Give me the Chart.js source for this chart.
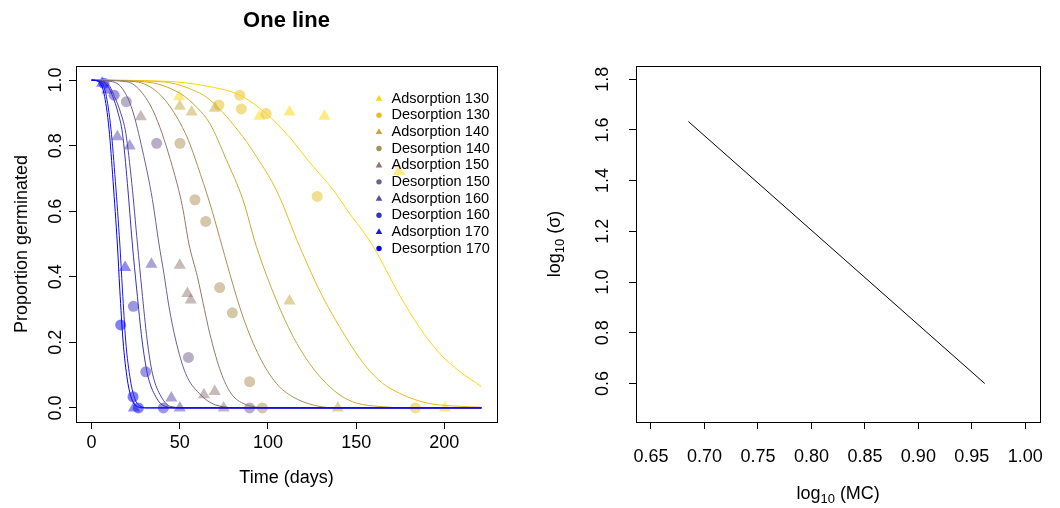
<!DOCTYPE html>
<html>
<head>
<meta charset="utf-8">
<title>One line</title>
<script src="https://cdn.jsdelivr.net/npm/chart.js@4.4.1/dist/chart.umd.min.js"></script>
<style>
  body { margin: 0; background: #fff; }
  #wrap { position: relative; width: 1060px; height: 508px; }
  canvas { position: absolute; top: 0; }
</style>
</head>
<body>
<div id="wrap">
  <canvas id="left" width="530" height="508" style="left:0"></canvas>
  <canvas id="right" width="530" height="508" style="left:530px"></canvas>
</div>
<script>
// series names, same order as the legend
var seriesNames = ['Adsorption 130', 'Desorption 130', 'Adsorption 140', 'Desorption 140', 'Adsorption 150',
  'Desorption 150', 'Adsorption 160', 'Desorption 160', 'Adsorption 170', 'Desorption 170'];

// fitted curves as [day, proportion]
var curveAds130 = [[0, 1], [40, 0.997], [67, 0.98], [84, 0.954], [99, 0.898], [112, 0.827], [123.5, 0.75], [137, 0.665],
  [146, 0.595], [153, 0.545], [160, 0.49], [167, 0.42], [175, 0.34], [186, 0.245], [197, 0.168], [208.5, 0.112], [221, 0.065]];
var curveDes130 = [[0, 1], [40, 0.995], [55, 0.975], [67, 0.94], [85.8, 0.827], [93.4, 0.767], [104.7, 0.665], [117.9, 0.493],
  [130, 0.35], [146, 0.2], [155.6, 0.126], [165, 0.075], [174.5, 0.045], [184, 0.024], [193, 0.012], [208.5, 0.005], [221, 0.002]];
var curveAds140 = [[0, 1], [30, 0.995], [50, 0.96], [60, 0.915], [67, 0.868], [76.4, 0.757], [85.8, 0.635], [93.4, 0.493],
  [104.7, 0.329], [114, 0.22], [123.5, 0.136], [133, 0.075], [142, 0.035], [150, 0.015], [164, 0.004], [180, 0], [221, 0]];
var curveDes140 = [[0, 1], [25, 0.995], [38, 0.96], [48, 0.89], [55, 0.815], [60, 0.74], [67, 0.625], [72.6, 0.52],
  [78.3, 0.41], [85.8, 0.278], [95.2, 0.156], [104.7, 0.075], [114, 0.034], [127, 0.007], [140, 0], [221, 0]];
var curveAds150 = [[0, 1], [20, 0.995], [28.8, 0.96], [36.4, 0.888], [45.8, 0.736], [51.5, 0.614], [55.2, 0.5],
  [60, 0.4], [64, 0.3], [67, 0.227], [72.6, 0.12], [78.3, 0.05], [85.8, 0.014], [100, 0.001], [221, 0]];
var curveDes150 = [[0, 1], [12, 0.995], [18, 0.97], [23.1, 0.909], [28.8, 0.787], [34.5, 0.635], [38.2, 0.5], [41, 0.41],
  [43.9, 0.308], [47.7, 0.207], [53.3, 0.105], [60.9, 0.045], [70.3, 0.009], [85, 0], [221, 0]];
var curveAds160 = [[0, 1], [9, 0.99], [13, 0.95], [16.5, 0.9], [19.4, 0.838], [22.8, 0.685], [26, 0.5], [28.5, 0.36],
  [31.5, 0.207], [34.5, 0.105], [39.5, 0.034], [45, 0.004], [55, 0], [221, 0]];
var curveDes160 = [[0, 1], [8, 0.99], [12, 0.95], [15, 0.9], [17.5, 0.838], [20.3, 0.685], [23.1, 0.5], [25.6, 0.36],
  [28.6, 0.207], [31.6, 0.105], [36.4, 0.034], [42, 0.004], [50, 0], [221, 0]];
var curveAds170 = [[0, 1], [5, 0.995], [8, 0.96], [11, 0.85], [13.5, 0.69], [16, 0.5], [17.5, 0.36], [19.3, 0.207],
  [22, 0.085], [24.8, 0.024], [28, 0.004], [32, 0], [221, 0]];
var curveDes170 = [[0, 1], [4, 0.995], [7, 0.96], [9.9, 0.85], [12.2, 0.69], [14.6, 0.5], [16, 0.36], [17.8, 0.207],
  [20.3, 0.085], [23, 0.024], [26, 0.004], [30, 0], [221, 0]];

// observed germination, [day, proportion]
var ptsAds130 = [[49.6, 0.949], [95.2, 0.89], [112.2, 0.903], [132, 0.89], [174.4, 0.721], [200.4, 0]];
var ptsDes130 = [[72.2, 0.924], [84, 0.954], [84.9, 0.912], [99, 0.898], [127.9, 0.645], [183.6, 0]];
var ptsAds140 = [[50, 0.92], [56.7, 0.903], [69.8, 0.914], [112.2, 0.326], [139.6, 0]];
var ptsDes140 = [[50.1, 0.807], [58.6, 0.635], [64.7, 0.569], [72.6, 0.367], [79.8, 0.29], [89.6, 0.08], [96.8, 0]];
var ptsAds150 = [[27.9, 0.888], [50, 0.435], [54.3, 0.349], [56.2, 0.329], [63.7, 0.04], [69.8, 0.05], [74.9, 0]];
var ptsDes150 = [[19.7, 0.934], [36.9, 0.807], [54.9, 0.154], [89.6, 0]];
var ptsAds160 = [[14.6, 0.827], [21.6, 0.799], [33.9, 0.438], [45.2, 0.03], [50, 0]];
var ptsDes160 = [[12.8, 0.954], [23.7, 0.31], [30.7, 0.11], [40.7, 0]];
var ptsAds170 = [[6, 0.99], [9, 0.97], [19, 0.428], [24, 0]];
var ptsDes170 = [[7, 0.99], [16.5, 0.253], [23.5, 0.034], [26.5, 0]];

// right panel: log10(sigma) against log10(MC)
var logMC = [0.685, 0.962];
var logSigma = [1.633, 0.600];

// tick labels
var timeTicks = [0, 50, 100, 150, 200];
var propTicks = [0, 0.2, 0.4, 0.6, 0.8, 1.0];
var mcTicks = [0.65, 0.70, 0.75, 0.80, 0.85, 0.90, 0.95, 1.00];
var sigmaTicks = [0.6, 0.8, 1.0, 1.2, 1.4, 1.6, 1.8];

var curves = [curveAds130, curveDes130, curveAds140, curveDes140, curveAds150,
  curveDes150, curveAds160, curveDes160, curveAds170, curveDes170];
var points = [ptsAds130, ptsDes130, ptsAds140, ptsDes140, ptsAds150,
  ptsDes150, ptsAds160, ptsDes160, ptsAds170, ptsDes170];

// colorRampPalette(c("gold", "blue"))(10)
var ramp = ['255,215,0', '227,191,28', '198,167,57', '170,143,85', '142,119,113',
  '113,96,142', '85,72,170', '57,48,198', '28,24,227', '0,0,255'];
var shapes = ['triangle', 'circle'];

var FONT = '"Liberation Sans", Arial, sans-serif';
Chart.defaults.font.family = FONT;
Chart.defaults.color = '#000';

function xy(arr) {
  return arr.map(function (p) { return { x: p[0], y: p[1] }; });
}

function fixedTicks(list) {
  return function (s) { s.ticks = list.map(function (v) { return { value: v }; }); };
}

// draws text with subscripts, parts = [[text, isSub], ...]
function richText(ctx, parts, x, y, size) {
  var w = 0;
  parts.forEach(function (p) {
    ctx.font = (p[1] ? size * 0.72 : size) + 'px ' + FONT;
    w += ctx.measureText(p[0]).width;
  });
  var cx = x - w / 2;
  ctx.textAlign = 'left';
  parts.forEach(function (p) {
    ctx.font = (p[1] ? size * 0.72 : size) + 'px ' + FONT;
    ctx.fillText(p[0], cx, p[1] ? y + size * 0.32 : y);
    cx += ctx.measureText(p[0]).width;
  });
}

// R-like box, rotated y labels, titles and legend
var rDecor = {
  id: 'rDecor',
  afterDraw: function (chart, args, o) {
    var ctx = chart.ctx, a = chart.chartArea, ys = chart.scales.y;
    ctx.save();
    ctx.strokeStyle = '#000';
    ctx.lineWidth = 1;
    ctx.strokeRect(Math.round(a.left) + 0.5, Math.round(a.top) + 0.5,
      Math.round(a.right - a.left), Math.round(a.bottom - a.top));

    ctx.fillStyle = '#000';
    ctx.textBaseline = 'middle';
    ctx.font = '18px ' + FONT;
    ctx.textAlign = 'center';
    ys.ticks.forEach(function (t) {
      ctx.save();
      ctx.translate(o.yLabelX, ys.getPixelForValue(t.value));
      ctx.rotate(-Math.PI / 2);
      ctx.fillText(t.value.toFixed(1), 0, 0);
      ctx.restore();
    });

    var midX = (a.left + a.right) / 2, midY = (a.top + a.bottom) / 2;
    richText(ctx, o.xTitle, midX, o.xTitleY, 18);
    ctx.save();
    ctx.translate(o.yTitleX, midY);
    ctx.rotate(-Math.PI / 2);
    richText(ctx, o.yTitle, 0, 0, 18);
    ctx.restore();

    if (o.title) {
      ctx.font = 'bold 22px ' + FONT;
      ctx.textAlign = 'center';
      ctx.fillText(o.title, midX, 21);
    }

    if (o.legend) {
      ctx.font = '14.5px ' + FONT;
      ctx.textAlign = 'left';
      seriesNames.forEach(function (name, i) {
        var y = 98.5 + i * 16.67;
        ctx.fillStyle = 'rgb(' + ramp[i] + ')';
        ctx.beginPath();
        if (i % 2 === 0) {
          ctx.moveTo(379, y - 3.6);
          ctx.lineTo(382.3, y + 2.2);
          ctx.lineTo(375.7, y + 2.2);
          ctx.closePath();
        } else {
          ctx.arc(379, y, 2.7, 0, Math.PI * 2);
        }
        ctx.fill();
        ctx.fillStyle = '#000';
        ctx.fillText(name, 391.5, y);
      });
    }
    ctx.restore();
  }
};

var tickGrid = { drawOnChartArea: false, drawTicks: true, tickLength: 7, color: '#000', lineWidth: 1 };

var leftSets = [];
curves.forEach(function (c, i) {
  leftSets.push({
    data: xy(c),
    showLine: true,
    pointRadius: 0,
    borderColor: 'rgb(' + ramp[i] + ')',
    borderWidth: 1,
    cubicInterpolationMode: 'monotone',
    order: 20 - i
  });
});
points.forEach(function (p, i) {
  leftSets.push({
    data: xy(p),
    showLine: false,
    pointStyle: shapes[i % 2],
    pointRadius: i % 2 === 0 ? 7 : 5.5,
    pointBorderWidth: 0,
    backgroundColor: 'rgba(' + ramp[i] + ',0.5)',
    borderColor: 'rgba(0,0,0,0)',
    order: 40 - i
  });
});

new Chart(document.getElementById('left'), {
  type: 'scatter',
  data: { datasets: leftSets },
  options: {
    responsive: false,
    animation: false,
    events: [],
    layout: { padding: { left: 0, top: 66, right: 33, bottom: 0 } },
    plugins: {
      legend: { display: false },
      tooltip: { enabled: false },
      rDecor: {
        title: 'One line',
        yLabelX: 56,
        xTitleY: 478,
        yTitleX: 22,
        xTitle: [['Time (days)', false]],
        yTitle: [['Proportion germinated', false]],
        legend: true
      }
    },
    scales: {
      x: {
        type: 'linear', min: -8.84, max: 229.84,
        afterBuildTicks: fixedTicks(timeTicks),
        afterFit: function (s) { s.height = 86; },
        grid: tickGrid,
        border: { display: false },
        ticks: { font: { size: 18 }, padding: 3, maxRotation: 0, autoSkip: false,
          callback: function (v) { return String(v); } }
      },
      y: {
        type: 'linear', min: -0.043, max: 1.043,
        afterBuildTicks: fixedTicks(propTicks),
        afterFit: function (s) { s.width = 76; },
        grid: tickGrid,
        border: { display: false },
        ticks: { display: false }
      }
    }
  },
  plugins: [rDecor]
});

new Chart(document.getElementById('right'), {
  type: 'scatter',
  data: {
    datasets: [{
      data: logMC.map(function (v, i) { return { x: v, y: logSigma[i] }; }),
      showLine: true,
      pointRadius: 0,
      borderColor: '#000',
      borderWidth: 1
    }]
  },
  options: {
    responsive: false,
    animation: false,
    events: [],
    layout: { padding: { left: 0, top: 66, right: 4, bottom: 0 } },
    plugins: {
      legend: { display: false },
      tooltip: { enabled: false },
      rDecor: {
        yLabelX: 73,
        xTitleY: 494,
        yTitleX: 25,
        xTitle: [['log', false], ['10', true], [' (MC)', false]],
        yTitle: [['log', false], ['10', true], [' (\u03c3)', false]]
      }
    },
    scales: {
      x: {
        type: 'linear', min: 0.636, max: 1.014,
        afterBuildTicks: fixedTicks(mcTicks),
        afterFit: function (s) { s.height = 86; },
        grid: tickGrid,
        border: { display: false },
        ticks: { font: { size: 18 }, padding: 17, maxRotation: 0, autoSkip: false,
          callback: function (v) { return v.toFixed(2); } }
      },
      y: {
        type: 'linear', min: 0.448, max: 1.852,
        afterBuildTicks: fixedTicks(sigmaTicks),
        afterFit: function (s) { s.width = 106; },
        grid: tickGrid,
        border: { display: false },
        ticks: { display: false }
      }
    }
  },
  plugins: [rDecor]
});
</script>
</body>
</html>
